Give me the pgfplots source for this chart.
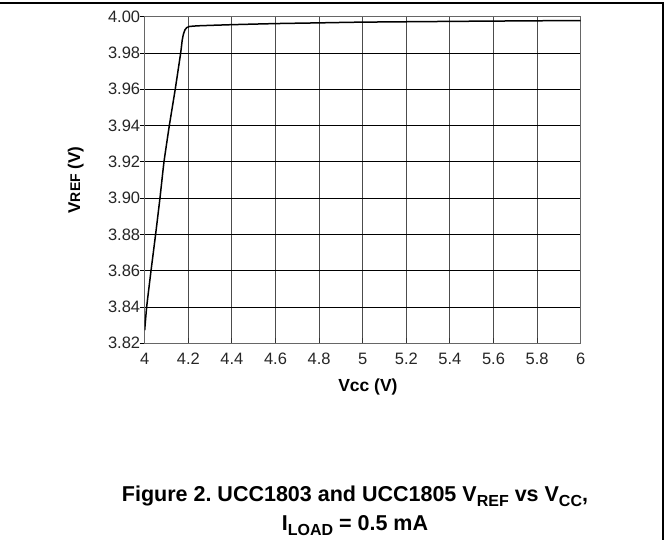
\documentclass[border=0pt]{standalone}
\usepackage{pgfplots}
\pgfplotsset{compat=1.18}
\usepackage{fontspec}
\setmainfont{Liberation Sans}
\frenchspacing

% VREF against VCC
\pgfplotstableread{
vcc    vref
4.000  3.8272
4.009  3.8400
4.029  3.8600
4.050  3.8800
4.070  3.9000
4.0885 3.9200
4.113  3.9400
4.140  3.9600
4.165  3.9800
4.172  3.9870
4.178  3.9905
4.185  3.9928
4.193  3.9940
4.205  3.9946
4.250  3.9950
4.400  3.9956
4.600  3.9962
4.800  3.9966
5.000  3.9970
5.500  3.9975
6.000  3.9979
}\vrefdata

\begin{document}
\begin{tikzpicture}[x=1pt,y=1pt]
\path[use as bounding box] (0,0) rectangle (669,540);
\draw[line width=1.3pt] (0,537) -- (663,537) -- (663,0);

\begin{axis}[
  at={(144.7pt,196.7pt)}, anchor=south west,
  scale only axis,
  width=436pt, height=326.6pt,
  xmin=4, xmax=6,
  ymin=3.82, ymax=4.00,
  xtick={4,4.2,4.4,4.6,4.8,5,5.2,5.4,5.6,5.8,6},
  xticklabels={4,4.2,4.4,4.6,4.8,5,5.2,5.4,5.6,5.8,6},
  ytick={3.82,3.84,3.86,3.88,3.90,3.92,3.94,3.96,3.98,4.00},
  yticklabels={3.82,3.84,3.86,3.88,3.90,3.92,3.94,3.96,3.98,4.00},
  xtick pos=bottom, ytick pos=left,
  major tick length=5pt,
  y tick style={black, line width=0.9pt, xshift=-5pt},
  x tick style={black!80, line width=1pt},
  xmajorgrids, ymajorgrids,
  x grid style={black!70, line width=0.9pt},
  y grid style={black, line width=0.8pt},
  axis line style={black!60, line width=1pt},
  tick label style={font=\fontsize{16.5}{18}\selectfont, text=black!85},
  xticklabel style={yshift=-6pt},
  yticklabel style={xshift=-1pt},
  xlabel={\bfseries Vcc (V)},
  ylabel={\bfseries V{\fontsize{14}{14}\selectfont REF} (V)},
  xlabel style={font=\fontsize{17.5}{20}\selectfont, at={(axis description cs:0.512,-0.133)}, anchor=center},
  ylabel style={font=\fontsize{17}{20}\selectfont, at={(axis description cs:-0.158,0.5)}, anchor=center},
]
\addplot[black, line width=1.5pt, smooth, tension=0.3] table[x=vcc, y=vref] {\vrefdata};
\end{axis}

\node[font=\fontsize{21.5}{24}\selectfont\bfseries, anchor=base] at (355,38)
  {Figure 2. UCC1803 and UCC1805 V\raisebox{-0.22em}{\fontsize{16}{16}\selectfont REF} vs V\raisebox{-0.22em}{\fontsize{16}{16}\selectfont CC},};
\node[font=\fontsize{21.5}{24}\selectfont\bfseries, anchor=base] at (355,9)
  {I\raisebox{-0.22em}{\fontsize{16}{16}\selectfont LOAD} = 0.5 mA};
\end{tikzpicture}
\end{document}
